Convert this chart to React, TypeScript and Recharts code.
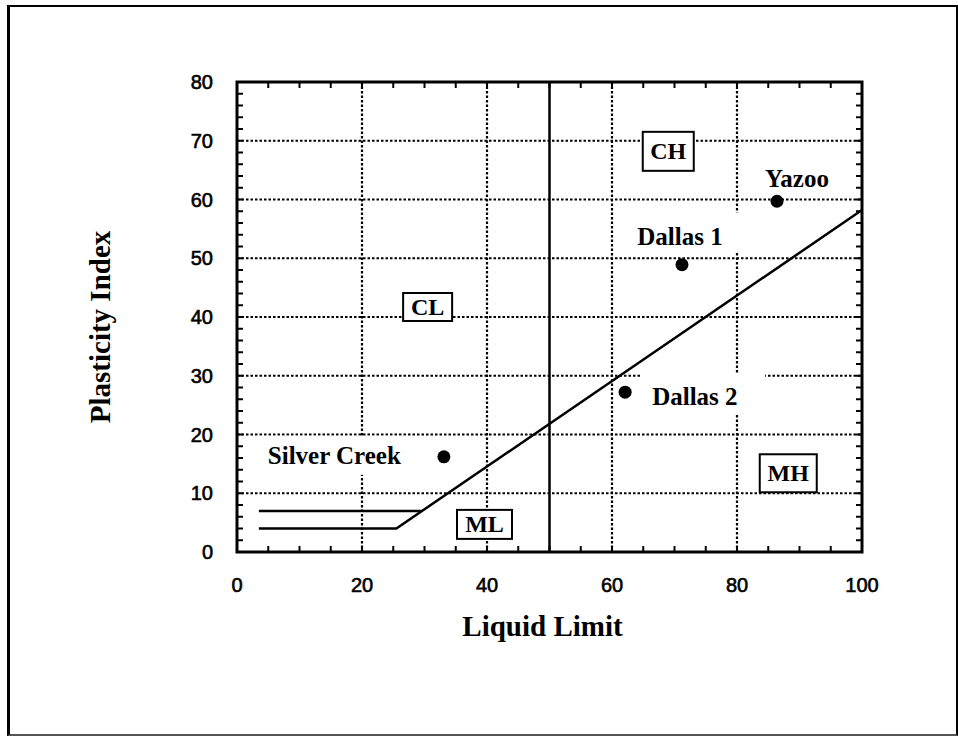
import React from "react";
import {
  ComposedChart,
  Line,
  Scatter,
  XAxis,
  YAxis,
  CartesianGrid,
  ReferenceLine,
  ReferenceArea,
  ReferenceDot,
} from "recharts";

// axis ticks (minor every 5 / 2, labels on the majors)
const X_TICKS = [0, 5, 10, 15, 20, 25, 30, 35, 40, 45, 50, 55, 60, 65, 70, 75, 80, 85, 90, 95, 100];
const X_LABELS = [0, 20, 40, 60, 80, 100];
const Y_TICKS = [
  0, 2, 4, 6, 8, 10, 12, 14, 16, 18, 20, 22, 24, 26, 28, 30, 32, 34, 36, 38, 40,
  42, 44, 46, 48, 50, 52, 54, 56, 58, 60, 62, 64, 66, 68, 70, 72, 74, 76, 78, 80,
];
const Y_LABELS = [0, 10, 20, 30, 40, 50, 60, 70, 80];
const GRID_X = [20, 40, 60, 80];
const GRID_Y = [10, 20, 30, 40, 50, 60, 70];
const DIVIDER_LL = 50;

// A-line and the CL-ML band
const A_LINE = [
  { ll: 3.5, pi: 4 },
  { ll: 25.5, pi: 4 },
  { ll: 100, pi: 58.2 },
];
const BAND_TOP = [
  { ll: 3.5, pi: 7 },
  { ll: 29.5, pi: 7 },
];

const SAMPLES = [
  { name: "Silver Creek", ll: 33.1, pi: 16.2 },
  { name: "Dallas 2", ll: 62.1, pi: 27.2 },
  { name: "Dallas 1", ll: 71.2, pi: 48.9 },
  { name: "Yazoo", ll: 86.4, pi: 59.7 },
];

const ZONES = [
  { name: "CH", ll: 69.0, pi: 68.2 },
  { name: "CL", ll: 30.5, pi: 41.7 },
  { name: "ML", ll: 39.6, pi: 4.7 },
  { name: "MH", ll: 88.2, pi: 13.4 },
];

const W = 958;
const H = 736;
const MARGIN = { top: 82, right: 96, bottom: 144, left: 177 };
const Y_AXIS_W = 60;
const X_AXIS_H = 40;
const PLOT_LEFT = MARGIN.left + Y_AXIS_W;
const PLOT_RIGHT = W - MARGIN.right;
const PLOT_TOP = MARGIN.top;
const PLOT_BOTTOM = H - MARGIN.bottom - X_AXIS_H;

const SERIF = '"Liberation Serif", "Times New Roman", serif';
const SANS = '"Liberation Sans", Arial, sans-serif';

// label placement around each sample dot (px offsets)
const SAMPLE_LABEL: Record<string, { dx: number; dy: number; anchor: "start" | "middle" | "end"; box: number[] }> = {
  "Silver Creek": { dx: -43, dy: 7, anchor: "end", box: [-187, -21, 154, 39] },
  "Dallas 2": { dx: 27, dy: 13, anchor: "start", box: [15, -19, 125, 40] },
  "Dallas 1": { dx: -2, dy: -20, anchor: "middle", box: [-52, -52, 115, 40] },
  Yazoo: { dx: 20, dy: -14, anchor: "middle", box: [-22, -41, 84, 33] },
};

const ZONE_BOX: Record<string, number[]> = {
  CH: [51, 39],
  CL: [49, 28],
  ML: [55, 29],
  MH: [57, 38],
};

const tickText = {
  fontFamily: SANS,
  fontSize: 20,
  fill: "#000",
  stroke: "#000",
  strokeWidth: 0.6,
};

const XTick = (props: any) => {
  const { x, payload } = props;
  const v = payload.value;
  return (
    <g>
      <line x1={x} x2={x} y1={PLOT_BOTTOM} y2={PLOT_BOTTOM - 6} stroke="#000" strokeWidth={2} />
      <line x1={x} x2={x} y1={PLOT_TOP} y2={PLOT_TOP + 6} stroke="#000" strokeWidth={2} />
      {X_LABELS.includes(v) && (
        <text x={x} y={PLOT_BOTTOM + 40} textAnchor="middle" {...tickText}>
          {v}
        </text>
      )}
    </g>
  );
};

const YTick = (props: any) => {
  const { y, payload } = props;
  const v = payload.value;
  return (
    <g>
      <line x1={PLOT_LEFT} x2={PLOT_LEFT + 6} y1={y} y2={y} stroke="#000" strokeWidth={2} />
      <line x1={PLOT_RIGHT} x2={PLOT_RIGHT - 6} y1={y} y2={y} stroke="#000" strokeWidth={2} />
      {Y_LABELS.includes(v) && (
        <text x={PLOT_LEFT - 24} y={y + 7} textAnchor="end" {...tickText}>
          {v}
        </text>
      )}
    </g>
  );
};

const SampleDot = (props: any) => {
  const { cx, cy, payload } = props;
  const lab = SAMPLE_LABEL[payload.name];
  return (
    <g>
      <rect x={cx + lab.box[0]} y={cy + lab.box[1]} width={lab.box[2]} height={lab.box[3]} fill="#fff" />
      <text
        x={cx + lab.dx}
        y={cy + lab.dy}
        textAnchor={lab.anchor}
        fontFamily={SERIF}
        fontWeight="bold"
        fontSize={25}
        fill="#000"
      >
        {payload.name}
      </text>
      <circle cx={cx} cy={cy} r={6.5} fill="#000" />
    </g>
  );
};

const zoneShape = (name: string) => (props: any) => {
  const { cx, cy } = props;
  const [w, h] = ZONE_BOX[name];
  return (
    <g>
      <rect x={cx - w / 2} y={cy - h / 2} width={w} height={h} fill="#fff" stroke="#000" strokeWidth={2} />
      <text x={cx} y={cy + 8} textAnchor="middle" fontFamily={SERIF} fontWeight="bold" fontSize={24} fill="#000">
        {name}
      </text>
    </g>
  );
};

const XTitle = () => (
  <text
    x={(PLOT_LEFT + PLOT_RIGHT) / 2 - 7}
    y={PLOT_BOTTOM + 84}
    textAnchor="middle"
    fontFamily={SERIF}
    fontWeight="bold"
    fontSize={29}
    fill="#000"
  >
    Liquid Limit
  </text>
);

const YTitle = () => {
  const cx = 110;
  const cy = (PLOT_TOP + PLOT_BOTTOM) / 2 + 10;
  return (
    <text
      x={cx}
      y={cy}
      transform={`rotate(-90, ${cx}, ${cy})`}
      textAnchor="middle"
      fontFamily={SERIF}
      fontWeight="bold"
      fontSize={29}
      fill="#000"
    >
      Plasticity Index
    </text>
  );
};

const App = () => {
  return (
    <div style={{ position: "absolute", left: 0, top: 0, width: W, height: H, background: "#fff" }}>
      <div
        style={{
          position: "absolute",
          left: 7,
          top: 5,
          width: 946,
          height: 727,
          borderTop: "2px solid #000",
          borderLeft: "3px solid #000",
          borderRight: "2px solid #000",
          borderBottom: "2px solid #555",
        }}
      />
      <div style={{ position: "absolute", left: 0, top: 0 }}>
        <ComposedChart width={W} height={H} margin={MARGIN}>
          <CartesianGrid
            stroke="#000"
            strokeWidth={2.2}
            strokeDasharray="2.5 2"
            horizontalValues={GRID_Y}
            verticalValues={GRID_X}
          />
          <XAxis
            dataKey="ll"
            type="number"
            domain={[0, 100]}
            ticks={X_TICKS}
            interval={0}
            tickSize={0}
            tickMargin={0}
            axisLine={false}
            tickLine={false}
            tick={XTick}
            height={X_AXIS_H}
            label={{ content: XTitle }}
          />
          <YAxis
            dataKey="pi"
            type="number"
            domain={[0, 80]}
            ticks={Y_TICKS}
            interval={0}
            tickSize={0}
            tickMargin={0}
            axisLine={false}
            tickLine={false}
            tick={YTick}
            width={Y_AXIS_W}
            label={{ content: YTitle }}
          />
          <ReferenceLine x={DIVIDER_LL} stroke="#000" strokeWidth={2.5} />
          <Line
            data={A_LINE}
            dataKey="pi"
            type="linear"
            stroke="#000"
            strokeWidth={2.5}
            dot={false}
            isAnimationActive={false}
          />
          <Line
            data={BAND_TOP}
            dataKey="pi"
            type="linear"
            stroke="#000"
            strokeWidth={2.5}
            dot={false}
            isAnimationActive={false}
          />
          <Scatter data={SAMPLES} dataKey="pi" shape={SampleDot} isAnimationActive={false} />
          {ZONES.map((z) => (
            <ReferenceDot key={z.name} x={z.ll} y={z.pi} r={0} shape={zoneShape(z.name)} />
          ))}
          <ReferenceArea x1={0} x2={100} y1={0} y2={80} fill="none" fillOpacity={0} stroke="#000" strokeWidth={3} />
        </ComposedChart>
      </div>
    </div>
  );
};

export default App;
